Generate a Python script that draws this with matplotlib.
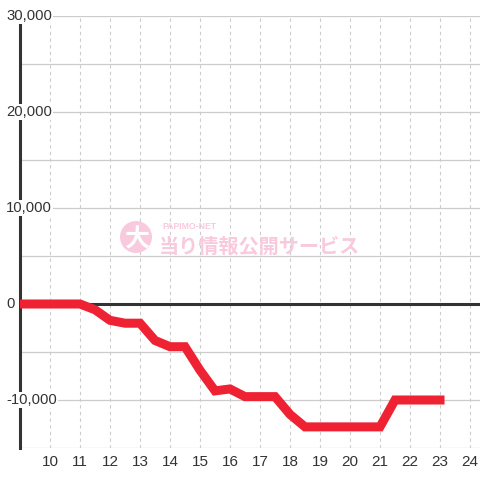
import matplotlib
matplotlib.use("Agg")
import matplotlib.pyplot as plt
from matplotlib.patches import Circle

hours = [9, 9.5, 10, 10.5, 11, 11.5, 12, 12.5, 13, 13.5, 14, 14.5, 15, 15.5, 16,
         16.5, 17, 17.5, 18, 18.5, 19, 19.5, 20, 20.5, 21, 21.5, 22, 22.5, 23]
values = [0, 0, 0, 0, 0, -600, -1700, -2000, -2000, -3800, -4450, -4450, -6900, -9050, -8850,
          -9650, -9650, -9650, -11500, -12800, -12800, -12800, -12800, -12800, -12800, -10000, -10000, -10000, -10000]
x_ticks = list(range(10, 25))
y_label_vals = [30000, 20000, 10000, 0, -10000]
y_grid_vals = list(range(-15000, 30001, 5000))

plt.rcParams['font.family'] = ['Liberation Sans', 'Noto Sans CJK JP', 'DejaVu Sans']

fig = plt.figure(figsize=(4.8, 4.8), dpi=100)
fig.patch.set_facecolor('white')
ax = fig.add_axes([20/480, 32/480, 460/480, 432/480])
ax.set_xlim(9, 9 + 460/30)
ax.set_ylim(-15000, 30000)
for s in ['top', 'right', 'bottom']:
    ax.spines[s].set_visible(False)
ax.spines['left'].set_color('#333333')
ax.spines['left'].set_linewidth(2.2)
ax.spines['left'].set_bounds(-15000, 29200)
ax.spines['left'].set_zorder(3)
ax.set_yticks([])
ax.set_xticks(x_ticks)
ax.set_xticklabels([str(h) for h in x_ticks], fontsize=11, color='#333333')
ax.tick_params(axis='x', length=0, pad=5)

for v in y_grid_vals:
    ax.axhline(v, color='#cccccc', lw=0.9, zorder=1)
for h in x_ticks:
    ax.axvline(h, color='#cccccc', lw=0.8, ls=(0, (3, 3)), zorder=1)
ax.axhline(0, color='#333333', lw=2.2, zorder=2)

ax.plot(hours, values, color='#EE2233', lw=6.5, solid_joinstyle='miter',
        solid_capstyle='projecting', zorder=4, clip_on=True)

for v in y_label_vals:
    ax.text(9 - 14/30, v, f"{v:,}", ha='left', va='center', fontsize=10.7,
            color='#333333', zorder=5, clip_on=False,
            bbox=dict(facecolor='white', edgecolor='none', pad=1.0))

# watermark
wm = '#f9c9de'
fig.patches.append(Circle((136/480, 1-237/480), 16/480, transform=fig.transFigure,
                          facecolor=wm, edgecolor='none', zorder=6))
fig.text(137/480, 1-239/480, '大', ha='center', va='center', fontsize=18,
         fontweight='bold', color='white', family=['Noto Sans CJK JP'], zorder=7)
fig.text(159/480, 1-246/480, '当り情報公開サービス', ha='left', va='center', fontsize=14.5,
         fontweight='bold', color=wm, family=['Noto Sans CJK JP'], zorder=7)
fig.text(162/480, 1-226.5/480, 'PAPIMO-NET', ha='left', va='center', fontsize=6.2,
         fontweight='bold', color=wm, zorder=7)

fig.savefig('out.png', dpi=100, facecolor='white')
